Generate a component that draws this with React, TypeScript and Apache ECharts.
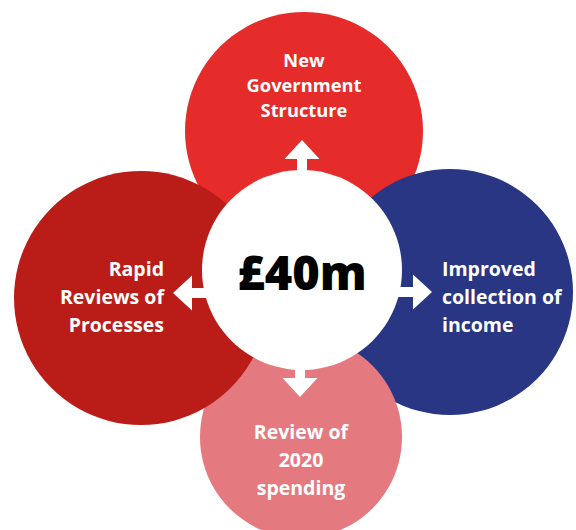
import React, { useEffect, useRef } from "react";
import * as echarts from "echarts";

// ---- data ----
const hubLabel = "£40m";
const petalNames = ["New Government Structure", "Improved collection of income", "Review of 2020 spending", "Rapid Reviews of Processes"];
const petalLines = [
  ["New", "Government", "Structure"],
  ["Improved", "collection of", "income"],
  ["Review of", "2020", "spending"],
  ["Rapid", "Reviews of", "Processes"],
];

// ---- layout (pixel space of the hidden axes) ----
const W = 576;
const H = 530;
const hub = { x: 302, y: 270, r: 100 };
const petalLayout = [
  { x: 304, y: 131, r: 119, color: "#E52C2B" },
  { x: 450, y: 292, r: 123, color: "#283683" },
  { x: 301, y: 437, r: 101, color: "#E47980" },
  { x: 141, y: 298, r: 127, color: "#BA1D18" },
];
const labelLayout = [
  { x: 304, y: 84, align: "center", lh: 25, fs: 18.3 },
  { x: 442, y: 296, align: "left", lh: 28, fs: 19.5 },
  { x: 301, y: 459, align: "center", lh: 28, fs: 19.5 },
  { x: 164, y: 296, align: "right", lh: 28, fs: 19.5 },
];
const arrowLayout = [
  { x: 302, y: 160, rot: 0 },
  { x: 412, y: 292, rot: -90 },
  { x: 300, y: 377, rot: 180 },
  { x: 193, y: 293, rot: 90 },
];
const arrowPath = "path://M17.5,0 L35,19 L22.5,19 L22.5,40 L12.5,40 L12.5,19 L0,19 Z";
const FONT = "'Open Sans', 'DejaVu Sans', sans-serif";

export default function App() {
  const ref = useRef<HTMLDivElement>(null);
  useEffect(() => {
    if (!ref.current) return;
    const chart = echarts.init(ref.current, null, { renderer: "svg" });
    const circleData = petalLayout
      .map((p, i) => ({
        name: petalNames[i],
        value: [p.x, p.y, p.r],
        itemStyle: { color: p.color, opacity: 1 },
      }))
      .concat([{ name: hubLabel, value: [hub.x, hub.y, hub.r], itemStyle: { color: "#FFFFFF", opacity: 1 } }]);

    chart.setOption({
      animation: false,
      backgroundColor: "#FFFFFF",
      grid: { left: 0, right: 0, top: 0, bottom: 0 },
      xAxis: { type: "value", min: 0, max: W, show: false },
      yAxis: { type: "value", min: 0, max: H, inverse: true, show: false },
      series: [
        {
          type: "scatter",
          z: 1,
          silent: true,
          symbol: "circle",
          symbolSize: (v: number[]) => v[2] * 2,
          itemStyle: { opacity: 1 },
          data: circleData,
        },
        {
          type: "scatter",
          z: 3,
          silent: true,
          symbol: arrowPath,
          symbolSize: [35, 40],
          itemStyle: { color: "#FFFFFF", opacity: 1 },
          data: arrowLayout.map((a, i) => ({
            name: petalNames[i],
            value: [a.x, a.y],
            symbolRotate: a.rot,
          })),
        },
        {
          type: "scatter",
          z: 4,
          silent: true,
          symbolSize: 0,
          itemStyle: { opacity: 1 },
          data: labelLayout
            .map((l, i) => ({
              name: petalNames[i],
              value: [l.x, l.y],
              label: {
                show: true,
                position: "inside",
                formatter: petalLines[i].join("\n"),
                align: l.align,
                verticalAlign: "middle",
                lineHeight: l.lh,
                color: "#FFFFFF",
                opacity: 1,
                fontFamily: FONT,
                fontWeight: "bold",
                fontSize: l.fs,
              },
            }))
            .concat([
              {
                name: hubLabel,
                value: [hub.x, hub.y + 2],
                label: {
                  show: true,
                  position: "inside",
                  formatter: hubLabel,
                  align: "center",
                  verticalAlign: "middle",
                  lineHeight: 50,
                  color: "#000000",
                  opacity: 1,
                  fontFamily: FONT,
                  fontWeight: 800,
                  fontSize: 47,
                },
              } as any,
            ]),
        },
      ],
    });
    return () => chart.dispose();
  }, []);
  return (
    <div
      ref={ref}
      style={{ position: "absolute", left: 0, top: 0, width: W, height: H }}
    />
  );
}
